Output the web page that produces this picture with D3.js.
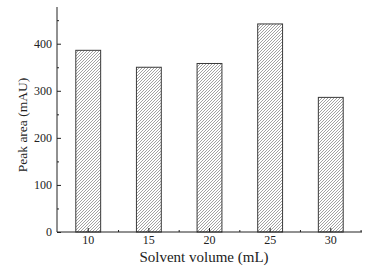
<!DOCTYPE html>
<html lang="en">
<head>
<meta charset="UTF-8">
<script src="https://d3js.org/d3.v7.min.js"></script>
<style>
  body { margin: 0; background: #fff; }
  text { font-family: "Liberation Serif", "Times New Roman", serif; fill: #222; }
  .tick-label { font-size: 12px; }
  .axis-label { font-size: 15px; }
</style>
</head>
<body>
<svg width="367" height="271"></svg>
<script>
const volumes = ["10", "15", "20", "25", "30"];
const peakAreas = [386, 350, 358, 442, 286];
const yTicks = [0, 100, 200, 300, 400];

const plotLeft = 57, plotRight = 362, plotTop = 7, plotBottom = 232;
const svg = d3.select("svg");

const x = d3.scaleBand().domain(volumes).range([plotLeft, plotRight]).paddingInner(0.59).paddingOuter(0.31);
const y = d3.scaleLinear().domain([0, 478]).range([plotBottom, plotTop]);

const defs = svg.append("defs");
const pat = defs.append("pattern")
  .attr("id", "hatch")
  .attr("patternUnits", "userSpaceOnUse")
  .attr("width", 3).attr("height", 3);
pat.append("path")
  .attr("d", "M-1,1 L1,-1 M0,3 L3,0 M2,4 L4,2")
  .attr("stroke", "#7a7a7a").attr("stroke-width", 0.7);

svg.selectAll(".bar")
  .data(peakAreas)
  .enter().append("rect")
  .attr("class", "bar")
  .attr("x", (d, i) => x(volumes[i]))
  .attr("y", d => y(d))
  .attr("width", x.bandwidth())
  .attr("height", d => plotBottom - y(d))
  .attr("fill", "url(#hatch)")
  .attr("stroke", "#3a3a3a")
  .attr("stroke-width", 1);

// y axis
const ya = svg.append("g").attr("transform", `translate(${plotLeft},0)`);
ya.call(d3.axisRight(y).tickValues(yTicks).tickSize(4).tickFormat(""));
ya.append("g").call(d3.axisRight(y).tickValues([50, 150, 250, 350, 450]).tickSize(2).tickFormat(""));
ya.selectAll("path.domain").remove();
ya.append("line").attr("x1", 0).attr("x2", 0).attr("y1", plotTop).attr("y2", plotBottom).attr("stroke", "#222");
ya.selectAll("line").attr("stroke", "#222");
svg.selectAll(".ylab")
  .data(yTicks)
  .enter().append("text")
  .attr("class", "tick-label")
  .attr("x", plotLeft - 5)
  .attr("y", d => y(d) + 4)
  .attr("text-anchor", "end")
  .text(d => d);

// x axis
const xa = svg.append("g").attr("transform", `translate(0,${plotBottom})`);
xa.append("line").attr("x1", plotLeft).attr("x2", plotRight).attr("y1", 0).attr("y2", 0).attr("stroke", "#222");
const centers = volumes.map(v => x(v) + x.bandwidth() / 2);
xa.selectAll(".major").data(centers).enter().append("line")
  .attr("x1", d => d).attr("x2", d => d).attr("y1", 0).attr("y2", -4).attr("stroke", "#222");
const mids = centers.slice(0, -1).map((c, i) => (c + centers[i + 1]) / 2).concat([centers[4] + x.step() / 2]);
xa.selectAll(".minor").data(mids).enter().append("line")
  .attr("x1", d => d).attr("x2", d => d).attr("y1", 0).attr("y2", -2).attr("stroke", "#222");
xa.selectAll(".xlab").data(volumes).enter().append("text")
  .attr("class", "tick-label")
  .attr("x", (d, i) => centers[i])
  .attr("y", 12)
  .attr("text-anchor", "middle")
  .text(d => d);

svg.append("text")
  .attr("class", "axis-label")
  .attr("x", 204).attr("y", 262)
  .attr("text-anchor", "middle")
  .text("Solvent volume (mL)");
svg.append("text")
  .attr("class", "axis-label")
  .style("font-size", "13.5px")
  .attr("transform", "translate(27,125) rotate(-90)")
  .attr("text-anchor", "middle")
  .text("Peak area (mAU)");
</script>
</body>
</html>
